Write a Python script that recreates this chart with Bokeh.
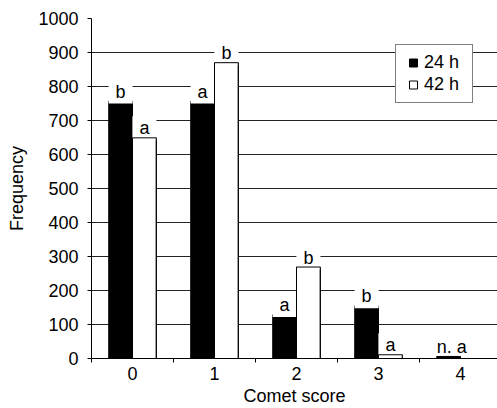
import numpy as np
from bokeh.plotting import figure
from bokeh.models import FixedTicker, Legend, LegendItem, ColumnDataSource
from bokeh.core.properties import value
from bokeh.embed import file_html
from bokeh.resources import INLINE

# ---- data ----
scores = [0, 1, 2, 3, 4]
score_labels = ["0", "1", "2", "3", "4"]
freq_24h = [757, 757, 129, 155, 6]
freq_42h = [649, 870, 269, 11, 0]
letters_24h = ["b", "a", "a", "b", ""]
letters_42h = ["a", "b", "b", "a", ""]
group_note = ["", "", "", "", "n. a"]
series_names = ["24 h", "42 h"]
y_ticks = list(range(0, 1001, 100))

FONT = "Liberation Sans"
FS = "18px"
BW = 0.29          # bar width (category units)
LBL_OFF = 28       # label baseline above bar top (data units)

p = figure(width=497, height=408, x_range=(-0.5, 4.451), y_range=(0, 1000),
           output_backend="svg", toolbar_location=None,
           min_border_left=91, min_border_right=0, min_border_top=18,
           min_border_bottom=50, background_fill_color="white",
           border_fill_color="white")
p.outline_line_color = None

# grid
p.xgrid.grid_line_color = None
p.ygrid.ticker = FixedTicker(ticks=y_ticks)
p.ygrid.grid_line_color = "#222222"
p.ygrid.grid_line_width = 1

# bars
x24 = [s - BW / 2 for s in scores]
x42 = [s + BW / 2 for s in scores]
src = ColumnDataSource(dict(x24=x24, x42=x42, f24=freq_24h, f42=freq_42h,
                            l42x0=[s for s in scores], l42x1=[s + BW for s in scores],
                            y24=[v + LBL_OFF for v in freq_24h],
                            y42=[v + LBL_OFF for v in freq_42h],
                            l24=letters_24h, l42=letters_42h))
p.vbar(x="x24", top="f24", bottom=0, width=BW, source=src,
       fill_color="black", line_color="black", line_width=1)
p.vbar(x="x42", top="f42", bottom=0, width=BW, source=src,
       fill_color="white", line_color="black", line_width=1)

# significance letters with white background (interrupt gridlines)
common = dict(text_font=value(FONT), text_font_size=FS, text_color="black",
              text_align="center", text_baseline="alphabetic",
              background_fill_color="white", padding=(7, 2))
p.text(x="x24", y="y24", text="l24", source=src, **common)
p.text(x="x42", y="y42", text="l42", source=src, **common)

note_src = ColumnDataSource(dict(
    x=[s - BW for s, n in zip(scores, group_note) if n],
    y=[max(a, b) + LBL_OFF for a, b, n in zip(freq_24h, freq_42h, group_note) if n],
    t=[n for n in group_note if n]))
p.text(x="x", y="y", text="t", source=note_src, text_font=value(FONT),
       text_font_size=FS, text_color="black", text_align="left",
       text_baseline="alphabetic")

# outline of the white (42 h) bars, drawn on top
p.segment(x0="l42x0", y0=0, x1="l42x0", y1="f42", source=src, line_color="black", line_width=1)
p.segment(x0="l42x1", y0=0, x1="l42x1", y1="f42", source=src, line_color="black", line_width=1)
p.segment(x0="l42x0", y0="f42", x1="l42x1", y1="f42", source=src, line_color="black", line_width=1)

# axes
xa = p.xaxis[0]
xa.ticker = FixedTicker(ticks=scores, minor_ticks=[s - 0.5 for s in scores] + [scores[-1] + 0.5])
xa.major_label_overrides = {s: l for s, l in zip(scores, score_labels)}
xa.major_tick_out = 0
xa.major_tick_in = 0
xa.minor_tick_out = 4
xa.minor_tick_in = 0
xa.major_label_standoff = 4
xa.axis_label = "Comet score"
xa.axis_label_standoff = 3

ya = p.yaxis[0]
ya.ticker = FixedTicker(ticks=y_ticks)
ya.major_tick_out = 4
ya.major_tick_in = 0
ya.minor_tick_out = 0
ya.minor_tick_in = 0
ya.major_label_standoff = 9
ya.axis_label = "Frequency"
ya.axis_label_standoff = 8

for ax in (xa, ya):
    ax.axis_line_color = "black"
    ax.major_tick_line_color = "black"
    ax.minor_tick_line_color = "black"
    ax.major_label_text_font = FONT
    ax.major_label_text_font_size = FS
    ax.major_label_text_color = "black"
    ax.axis_label_text_font = FONT
    ax.axis_label_text_font_size = FS
    ax.axis_label_text_font_style = "normal"
    ax.axis_label_text_color = "black"

# legend (dummy square markers)
r1 = p.scatter(x=[np.nan], y=[np.nan], marker="square", fill_color="black", line_color="black")
r2 = p.scatter(x=[np.nan], y=[np.nan], marker="square", fill_color="white", line_color="black")
legend = Legend(items=[LegendItem(label=series_names[0], renderers=[r1]),
                       LegendItem(label=series_names[1], renderers=[r2])],
                location=(304, 255), orientation="vertical",
                glyph_width=20, glyph_height=21, label_height=21, label_width=41,
                label_standoff=1, padding=7, margin=0, spacing=1,
                border_line_color="black", border_line_width=1,
                background_fill_color="white", background_fill_alpha=1,
                label_text_font=FONT, label_text_font_size=FS,
                label_text_color="black")
p.add_layout(legend)

open("out.html", "w").write(file_html(p, INLINE))
